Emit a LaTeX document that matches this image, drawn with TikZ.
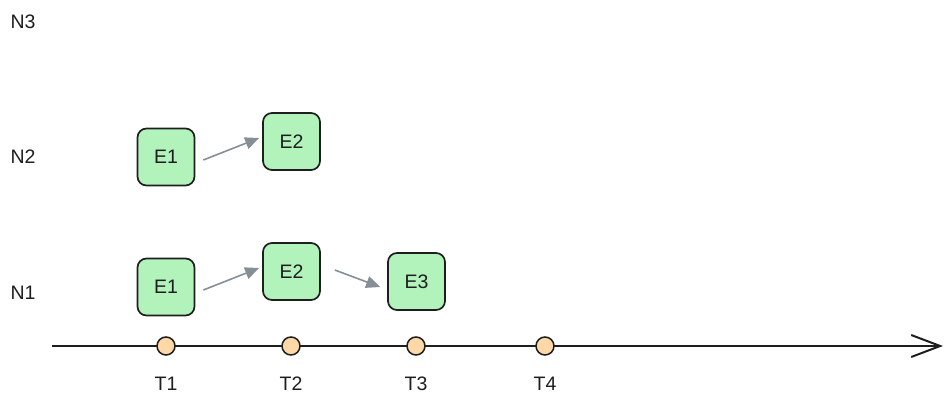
\documentclass[tikz,border=0pt]{standalone}
\usepackage{fontspec}
\setmainfont{Liberation Sans}
\usetikzlibrary{arrows.meta}
\definecolor{evgreen}{HTML}{B2F2BB}
\definecolor{evorange}{HTML}{FFD8A8}
\definecolor{evgray}{HTML}{868E96}
\definecolor{evdark}{HTML}{1E1E1E}
\begin{document}
\begin{tikzpicture}[x=1pt,y=-1pt,
  every node/.style={font=\fontsize{19.5}{22}\selectfont, text=evdark},
  event/.style={draw=evdark, line width=1.7pt, fill=evgreen, rounded corners=9pt,
    minimum width=57pt, minimum height=57pt, inner sep=0pt},
  tick/.style={circle, draw=evdark, line width=1.5pt, fill=evorange, minimum size=18pt, inner sep=0pt},
  lbl/.style={inner sep=0pt},
  flow/.style={draw=evgray, line width=1.6pt, -{Triangle[length=14pt,width=12pt]}}]
\useasboundingbox (0,0) rectangle (952,404);
% axis
\coordinate (axs) at (52,346);
\coordinate (axe) at (943,346);
\draw[evdark, line width=2pt, -{Straight Barb[length=29pt,width=22pt,line width=2pt]}] (axs) -- (axe);
% ticks
\node[tick] (t1) at (166,346) {};
\node[tick] (t2) at (291,346) {};
\node[tick] (t3) at (416,346) {};
\node[tick] (t4) at (545,346) {};
\node[lbl] (lt1) at (166,384) {T1};
\node[lbl] (lt2) at (291,384) {T2};
\node[lbl] (lt3) at (416,384) {T3};
\node[lbl] (lt4) at (545,384) {T4};
% row labels
\node[lbl] (ln3) at (23,22) {N3};
\node[lbl] (ln2) at (23,157) {N2};
\node[lbl] (ln1) at (23,293) {N1};
% events
\node[event] (a1) at (166,157) {E1};
\node[event] (a2) at (291.5,141.5) {E2};
\node[event] (b1) at (166,287) {E1};
\node[event] (b2) at (291.5,271.5) {E2};
\node[event] (b3) at (416.5,281.5) {E3};
% flows
\draw[flow] ([xshift=8pt,yshift=-3pt]a1.east) -- ([xshift=-3pt,yshift=3.5pt]a2.west);
\draw[flow] ([xshift=8pt,yshift=-3pt]b1.east) -- ([xshift=-3pt,yshift=3.5pt]b2.west);
\draw[flow] ([xshift=14pt,yshift=1.5pt]b2.east) -- ([xshift=-7pt,yshift=-5.5pt]b3.west);
\end{tikzpicture}
\end{document}
